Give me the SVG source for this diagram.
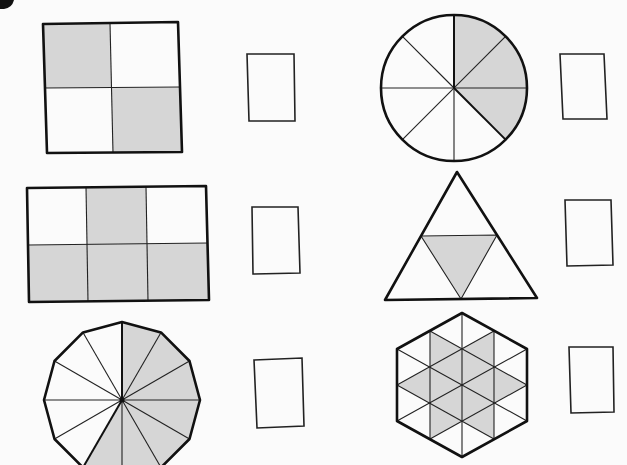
<svg xmlns="http://www.w3.org/2000/svg" width="627" height="465" viewBox="0 0 627 465">
<style>
.outline{fill:none;stroke:#111;stroke-width:2.6;stroke-linejoin:round}
.inner{fill:none;stroke:#222;stroke-width:1.1}
.bold{fill:none;stroke:#111;stroke-width:2}
.shade{fill:#d6d6d6;stroke:none}
.box{fill:none;stroke:#222;stroke-width:1.6}
</style>
<rect width="627" height="465" fill="#fbfbfb"/>
<path d="M0,0 L14,0 Q12,8 4,9 L0,9 Z" fill="#111"/>
<g id="square4">
<polygon class="shade" points="43,24 110,23 111.5,88 45,88"/>
<polygon class="shade" points="111.5,88 180,87 182,152 113,153"/>
<line class="inner" x1="110" y1="23" x2="113" y2="153"/>
<line class="inner" x1="45" y1="88" x2="180" y2="87"/>
<polygon class="outline" points="43,24 178,22 182,152 47,153"/>
</g>
<g id="box1"><polygon class="box" points="247,54 294,54 295,121 249,121"/></g>
<g id="circle8">
<path class="shade" d="M454,88 L454,15 A73,73 0 0,1 505.6,139.6 Z"/>
<line class="inner" x1="381" y1="88" x2="527" y2="88"/>
<line class="inner" x1="454" y1="88" x2="454" y2="161"/>
<line class="inner" x1="402.4" y1="36.4" x2="454" y2="88"/>
<line class="inner" x1="505.6" y1="36.4" x2="402.4" y2="139.6"/>
<line class="bold" x1="454" y1="15" x2="454" y2="88"/>
<line class="bold" x1="454" y1="88" x2="505.6" y2="139.6"/>
<circle class="outline" cx="454" cy="88" r="73"/>
</g>
<g id="box2"><polygon class="box" points="560,54 604,54 607,119 563,119"/></g>
<g id="rect6">
<polygon class="shade" points="86,187 146,186.5 147,244 87,245"/>
<polygon class="shade" points="28,245 208,243 209,300 29,302"/>
<line class="inner" x1="86" y1="187" x2="88" y2="301"/>
<line class="inner" x1="146" y1="186.5" x2="148" y2="300.5"/>
<line class="inner" x1="28" y1="245" x2="208" y2="243"/>
<polygon class="outline" points="27,188 206,186 209,300 29,302"/>
</g>
<g id="box3"><polygon class="box" points="252,207 298,207 300,273 253,274"/></g>
<g id="triangle4">
<polygon class="shade" points="421,236 497,235 461,299"/>
<polygon class="inner" points="421,236 497,235 461,299"/>
<polygon class="outline" points="457,172 537,298 385,300"/>
</g>
<g id="box4"><polygon class="box" points="565,200 611,200 613,265 567,266"/></g>
<g id="dodecagon12">
<polygon class="shade" points="122,400 122,322 161,332.4 189.5,361 200,400 189.5,439 161,467.5 122,478 83,467.5"/>
<g class="inner">
<line x1="122" y1="400" x2="161" y2="332.4"/>
<line x1="122" y1="400" x2="189.5" y2="361"/>
<line x1="122" y1="400" x2="200" y2="400"/>
<line x1="122" y1="400" x2="189.5" y2="439"/>
<line x1="122" y1="400" x2="161" y2="467.5"/>
<line x1="122" y1="400" x2="122" y2="478"/>
<line x1="122" y1="400" x2="54.5" y2="439"/>
<line x1="122" y1="400" x2="44" y2="400"/>
<line x1="122" y1="400" x2="54.5" y2="361"/>
<line x1="122" y1="400" x2="83" y2="332.4"/>
</g>
<line class="bold" x1="122" y1="400" x2="122" y2="322"/>
<line class="bold" x1="122" y1="400" x2="83" y2="467.5"/>
<circle cx="122" cy="400" r="2.5" fill="#111"/>
<polygon class="outline" points="122,322 161,332.4 189.5,361 200,400 189.5,439 161,467.5 122,478 83,467.5 54.5,439 44,400 54.5,361 83,332.4"/>
</g>
<g id="box5"><polygon class="box" points="254,360 302,358 304,426 257,428"/></g>
<g id="hexagon24">
<g class="shade">
<polygon points="462,349 494,367 494,403 462,421 430,403 430,367"/>
<polygon points="430,331 462,349 430,367"/>
<polygon points="494,331 462,349 494,367"/>
<polygon points="397,385 430,367 430,403"/>
<polygon points="527,385 494,367 494,403"/>
<polygon points="430,403 462,421 430,439"/>
<polygon points="494,403 462,421 494,439"/>
</g>
<g class="inner">
<line x1="462" y1="313" x2="462" y2="457"/>
<line x1="430" y1="331" x2="430" y2="439"/>
<line x1="494" y1="331" x2="494" y2="439"/>
<line x1="397" y1="421" x2="527" y2="349"/>
<line x1="397" y1="385" x2="494" y2="331"/>
<line x1="430" y1="439" x2="527" y2="385"/>
<line x1="397" y1="349" x2="527" y2="421"/>
<line x1="430" y1="331" x2="527" y2="385"/>
<line x1="397" y1="385" x2="494" y2="439"/>
</g>
<polygon class="outline" points="462,313 527,349 527,421 462,457 397,421 397,349"/>
</g>
<g id="box6"><polygon class="box" points="569,347 613,347 614,412 571,413"/></g>
</svg>
